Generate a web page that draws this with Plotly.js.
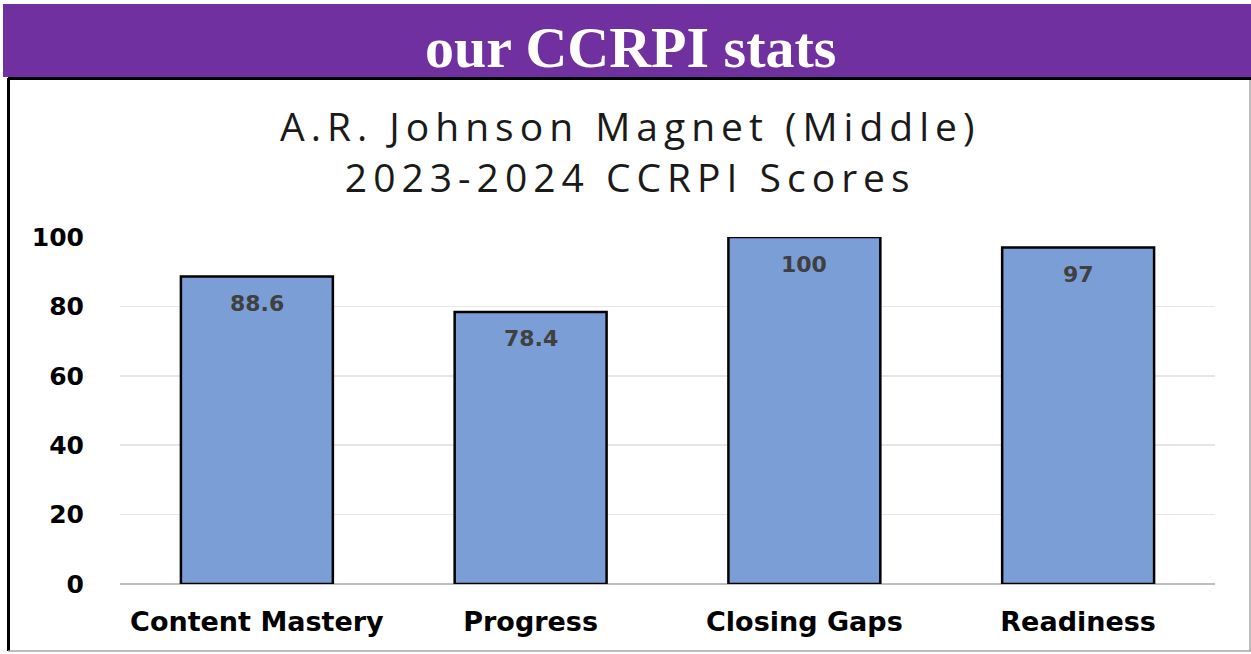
<!DOCTYPE html>
<html>
<head>
<meta charset="utf-8">
<script src="https://cdn.plot.ly/plotly-3.0.1.min.js"></script>
<style>
html,body{margin:0;padding:0;background:#fff;}
#chart{width:1251px;height:654px;}
g.annotation[data-index="5"] text{letter-spacing:6px;}
</style>
</head>
<body>
<div id="chart"></div>
<script>
const categories = ["Content Mastery", "Progress", "Closing Gaps", "Readiness"];
const scores = [88.6, 78.4, 100, 97];
const scoreLabels = ["88.6", "78.4", "100", "97"];
const yTicks = [0, 20, 40, 60, 80, 100];
const headerText = "our CCRPI stats";
const titleLines = ["A.R. Johnson Magnet (Middle)", "2023-2024 CCRPI Scores"];

const W = 1251, H = 654;
const px = x => x / W;
const py = y => 1 - y / H;

const trace = {
  type: "bar",
  x: categories,
  y: scores,
  marker: { color: "#7b9ed6", line: { color: "#000000", width: 2.5 } },
  hoverinfo: "skip",
  cliponaxis: false
};

const annotations = categories.map((c, i) => ({
  x: c, y: scores[i], xref: "x", yref: "y",
  text: scoreLabels[i], showarrow: false,
  yanchor: "middle", yshift: -27,
  font: { family: "DejaVu Sans", size: 22, color: "#404040", weight: "bold" }
}));
annotations.push({
  x: px(630), y: py(47), xref: "paper", yref: "paper",
  text: "<b>" + headerText + "</b>", showarrow: false,
  xanchor: "center", yanchor: "middle",
  font: { family: "Liberation Serif", size: 58, color: "#ffffff" }
});
annotations.push({
  x: px(630), y: py(151), xref: "paper", yref: "paper",
  text: titleLines.join("<br>"), showarrow: false, xanchor: "center", yanchor: "middle",
  font: { family: "Open Sans", size: 39, color: "#1a1a1a" }
});

const shapes = [
  { type: "rect", xref: "paper", yref: "paper", x0: px(3), x1: px(1251), y0: py(4), y1: py(77),
    fillcolor: "#7030a0", line: { width: 0 }, layer: "below" },
  { type: "line", xref: "paper", yref: "paper", x0: px(8), x1: px(1251), y0: py(78.5), y1: py(78.5),
    line: { color: "#000000", width: 3 } },
  { type: "line", xref: "paper", yref: "paper", x0: px(8.5), x1: px(8.5), y0: py(78), y1: py(651),
    line: { color: "#000000", width: 3 } },
  { type: "line", xref: "paper", yref: "paper", x0: px(1250), x1: px(1250), y0: py(80), y1: py(651),
    line: { color: "#a6a6a6", width: 1.5 } },
  { type: "line", xref: "paper", yref: "paper", x0: px(8), x1: px(1251), y0: py(651), y1: py(651),
    line: { color: "#a6a6a6", width: 1.5 } }
];

const layout = {
  width: W, height: H,
  margin: { l: 0, r: 0, t: 0, b: 0 },
  paper_bgcolor: "#ffffff", plot_bgcolor: "#ffffff",
  showlegend: false,
  bargap: 0.445,
  xaxis: {
    domain: [px(120), px(1215)],
    type: "category",
    range: [-0.5, 3.5],
    showgrid: false, showline: false, zeroline: false,
    ticks: "", ticklabelstandoff: 19,
    tickfont: { family: "DejaVu Sans", size: 27, color: "#000000", weight: "bold" },
    fixedrange: true
  },
  yaxis: {
    domain: [1 - 584 / H, 1 - 237 / H],
    range: [0, 100],
    tickvals: yTicks,
    ticktext: yTicks.map(String),
    showgrid: true, gridcolor: "#e6e6e6", gridwidth: 1.5,
    zeroline: true, zerolinecolor: "#bfbfbf", zerolinewidth: 2.5,
    showline: false, ticks: "", ticklabelstandoff: 35,
    tickfont: { family: "DejaVu Sans", size: 25, color: "#000000", weight: "bold" },
    fixedrange: true
  },
  annotations: annotations,
  shapes: shapes
};

Plotly.newPlot("chart", [trace], layout, { displayModeBar: false, staticPlot: true });
</script>
</body>
</html>
